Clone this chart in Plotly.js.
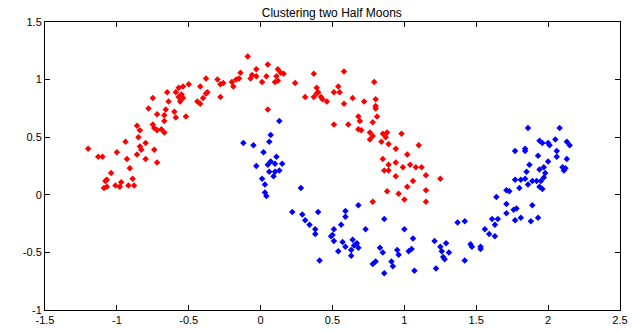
<!DOCTYPE html>
<html>
<head>
<meta charset="utf-8">
<script src="https://cdn.plot.ly/plotly-3.0.1.min.js"></script>
<style>html,body{margin:0;padding:0;background:#fff;}#chart{width:632px;height:331px;}</style>
</head>
<body>
<div id="chart"></div>
<script>
const redX = [-0.78,-0.64,-0.56,-0.44,-0.72,-0.67,-0.66,-0.60,-0.59,-0.52,-0.67,-0.86,-0.84,-0.75,-0.74,-0.72,-0.69,-0.67,-0.85,-0.94,-0.80,-0.84,-0.83,-0.74,-1.20,-1.00,-0.86,-1.13,-1.10,-0.93,-0.80,-0.72,-0.91,-1.04,-1.07,-1.08,-0.89,-0.97,-1.01,-0.98,-1.07,-1.09,-0.92,-0.88,
-0.09,-0.03,0.05,-0.14,-0.06,-0.03,0.04,-0.15,-0.17,-0.20,-0.19,-0.07,0.01,-0.30,-0.26,-0.28,-0.38,-0.50,-0.42,-0.54,-0.57,-0.37,-0.38,-0.40,-0.28,-0.65,-0.59,-0.55,-0.57,-0.54,-0.42,-0.75,0.05,
0.12,0.14,0.16,0.11,0.10,0.12,0.24,0.37,0.58,0.79,0.39,0.40,0.39,0.54,0.55,0.51,0.31,0.37,0.42,0.43,0.46,0.58,0.64,0.72,0.80,0.80,0.80,0.68,0.81,0.69,0.78,0.51,0.61,0.68,0.70,0.76,0.85,0.88,0.78,0.87,0.76,0.84,0.89,0.85,
0.98,0.94,1.10,1.02,0.89,0.94,0.99,1.04,1.08,1.12,0.86,0.89,0.94,1.15,1.25,1.06,1.02,0.88,0.96,1.15,1.00,0.78,1.15];
const redY = [0.75,0.81,0.81,0.81,0.70,0.69,0.74,0.72,0.67,0.68,0.64,0.60,0.56,0.61,0.58,0.56,0.57,0.54,0.50,0.46,0.45,0.42,0.39,0.39,0.40,0.37,0.35,0.33,0.33,0.31,0.31,0.28,0.23,0.19,0.13,0.12,0.14,0.11,0.08,0.07,0.07,0.06,0.08,0.08,
1.20,1.09,1.13,1.06,1.04,1.03,1.03,1.01,1.00,0.98,0.94,1.01,0.98,1.00,0.97,0.96,1.01,0.96,0.94,0.94,0.93,0.89,0.88,0.84,0.85,0.89,0.89,0.87,0.85,0.84,0.79,0.84,0.74,
1.09,1.06,1.05,1.03,0.98,0.99,0.97,1.05,1.07,0.98,0.93,0.89,0.88,0.94,0.89,0.89,0.85,0.85,0.85,0.83,0.81,0.79,0.84,0.81,0.83,0.77,0.75,0.68,0.68,0.64,0.63,0.61,0.61,0.57,0.56,0.54,0.53,0.54,0.51,0.50,0.48,0.46,0.44,0.31,
0.53,0.40,0.43,0.35,0.26,0.28,0.24,0.26,0.24,0.24,0.21,0.21,0.16,0.17,0.14,0.12,0.07,0.03,0.01,0.04,-0.04,-0.06,-0.06];
const blueX = [-0.12,-0.05,0.07,0.06,0.13,0.02,0.11,0.07,0.05,0.10,0.15,-0.03,0.06,0.10,0.13,0.09,0.01,0.03,0.03,0.04,0.28,0.22,0.29,0.40,0.59,0.59,0.31,0.34,0.38,0.51,0.56,
0.68,0.86,0.73,1.00,0.50,0.49,0.51,0.57,0.64,0.54,0.59,0.63,0.65,0.67,0.68,0.63,0.83,0.85,0.95,0.96,1.03,1.05,1.06,0.91,0.92,0.80,0.78,0.86,1.07,1.21,1.22,1.29,1.25,1.31,1.26,1.27,1.28,1.37,1.42,1.46,1.47,1.42,0.41,0.38,1.59,1.63,1.53,1.53,
1.86,2.08,1.94,1.96,2.00,2.01,2.05,2.13,2.15,1.77,1.84,1.84,1.93,2.06,2.06,2.13,2.00,1.87,1.97,1.94,2.10,2.12,2.11,1.85,1.98,1.97,1.77,1.81,1.84,1.89,1.92,1.95,1.86,1.80,1.94,1.96,1.71,1.73,1.64,1.71,1.89,1.78,1.76,1.71,1.81,1.77,1.93,1.88,1.61,1.65,1.63,1.56];
const blueY = [0.45,0.43,0.52,0.46,0.64,0.37,0.33,0.29,0.26,0.27,0.27,0.25,0.20,0.20,0.21,0.16,0.14,0.09,0.02,-0.01,0.06,-0.15,-0.17,-0.15,-0.14,-0.19,-0.22,-0.26,-0.30,-0.30,-0.26,
-0.09,-0.21,-0.30,-0.30,-0.35,-0.36,-0.40,-0.41,-0.39,-0.49,-0.45,-0.48,-0.44,-0.42,-0.46,-0.53,-0.46,-0.50,-0.48,-0.52,-0.49,-0.47,-0.38,-0.58,-0.62,-0.58,-0.60,-0.68,-0.66,-0.40,-0.64,-0.42,-0.45,-0.50,-0.49,-0.54,-0.56,-0.24,-0.23,-0.43,-0.45,-0.57,-0.57,-0.34,-0.34,-0.36,-0.45,-0.47,
0.58,0.58,0.47,0.45,0.45,0.43,0.48,0.46,0.43,0.38,0.40,0.38,0.34,0.38,0.33,0.31,0.29,0.26,0.24,0.22,0.24,0.23,0.21,0.20,0.19,0.15,0.13,0.13,0.14,0.12,0.12,0.12,0.09,0.06,0.07,0.05,0.04,0.03,-0.02,-0.08,-0.09,-0.12,-0.13,-0.16,-0.20,-0.22,-0.20,-0.23,-0.21,-0.21,-0.26,-0.30];

const xTickVals = [-1.5,-1,-0.5,0,0.5,1,1.5,2,2.5];
const xTickText = ["-1.5","-1","-0.5","0","0.5","1","1.5","2","2.5"];
const yTickVals = [-1,-0.5,0,0.5,1,1.5];
const yTickText = ["-1","-0.5","0","0.5","1","1.5"];
const chartTitle = "Clustering two Half Moons";

const mk = (color) => ({symbol:'diamond', size:5, color:color, line:{width:0}});
const data = [
  {x:redX, y:redY, type:'scatter', mode:'markers', marker:mk('#ff0000'), hoverinfo:'none'},
  {x:blueX, y:blueY, type:'scatter', mode:'markers', marker:mk('#0000ff'), hoverinfo:'none'}
];
const fontFam = 'Liberation Sans, Arial, sans-serif';
const axisCommon = {showgrid:false, zeroline:false, showline:true, linecolor:'#000', linewidth:1, mirror:'ticks', ticks:'inside', ticklen:5, tickcolor:'#000', tickwidth:1, tickfont:{family:fontFam, size:11, color:'#000'}};
const layout = {
  width:632, height:331,
  margin:{l:45, r:12, t:22, b:21, pad:0},
  paper_bgcolor:'#fff', plot_bgcolor:'#fff',
  showlegend:false,
  title:{text:chartTitle, x:0.525, xanchor:'center', y:0.975, yanchor:'top', font:{family:fontFam, size:12, color:'#000'}},
  xaxis:Object.assign({}, axisCommon, {range:[-1.5,2.5], tickvals:xTickVals, ticktext:xTickText}),
  yaxis:Object.assign({}, axisCommon, {range:[-1,1.5], tickvals:yTickVals, ticktext:yTickText})
};
Plotly.newPlot('chart', data, layout, {staticPlot:true, displayModeBar:false});
</script>
</body>
</html>
